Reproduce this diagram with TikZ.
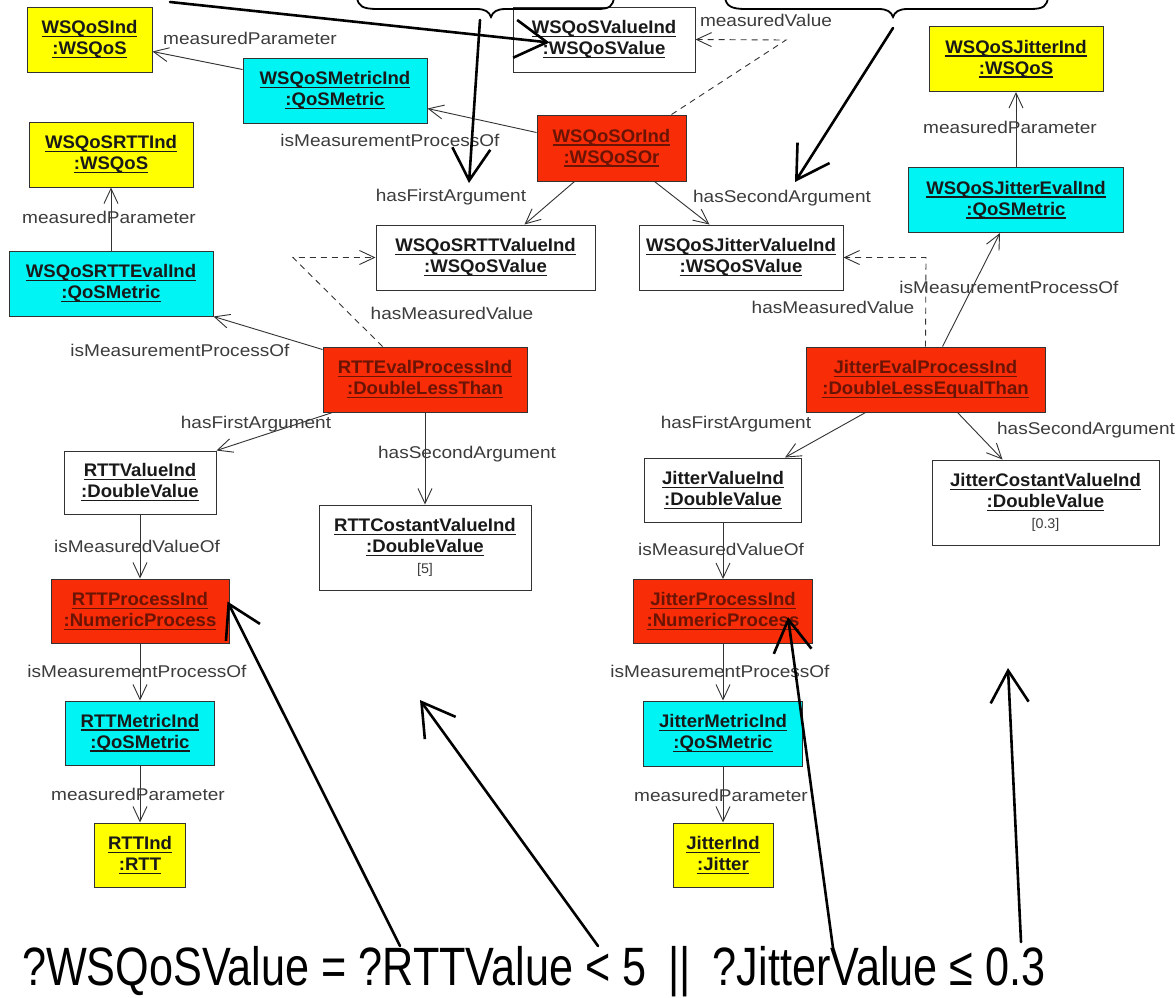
\documentclass[tikz,border=0pt]{standalone}
\usepackage{fontspec}
\setmainfont{Liberation Sans}
\newfontfamily\boxfont[FakeStretch=1.02]{Liberation Sans}
\newfontfamily\labfont[FakeStretch=1.12]{Liberation Sans}
\newfontfamily\formfont[FakeStretch=0.8]{Liberation Sans}
\usetikzlibrary{arrows.meta,calc}

\definecolor{umlred}{RGB}{248,44,6}
\definecolor{umlcyan}{RGB}{0,244,244}
\definecolor{umlyellow}{RGB}{255,255,0}
\definecolor{edgegray}{RGB}{50,50,50}
\definecolor{labgray}{RGB}{60,60,60}
\definecolor{redtext}{RGB}{105,20,5}
\definecolor{boxtext}{RGB}{25,25,25}

% underlined object name
\newcommand\ulx[1]{\setbox0=\hbox{#1}\rlap{\rule[-3.4pt]{\wd0}{1.3pt}}\box0}
\newcommand\obj[2]{\ulx{#1}\\\ulx{#2}}
\newcommand\val[1]{\\{\mdseries\fontsize{14}{21}\selectfont\color{labgray}#1}}

\tikzset{
  obj/.style={draw=edgegray, line width=1pt, minimum height=65pt, inner sep=0pt,
    align=center, font=\boxfont\bfseries\fontsize{18.2}{21}\selectfont, text=boxtext},
  plainbox/.style={obj, fill=white},
  yelbox/.style={obj, fill=umlyellow},
  cyanbox/.style={obj, fill=umlcyan},
  redbox/.style={obj, fill=umlred, text=redtext},
  lab/.style={font=\labfont\fontsize{17}{19}\selectfont, text=labgray, inner sep=0pt},
  rel/.style={draw=edgegray, line width=0.9pt,
    -{Straight Barb[length=15pt,width=14pt,line width=0.9pt]}},
  dep/.style={rel, dash pattern=on 6pt off 5pt},
  hand/.style={line width=2.6pt, line cap=round,
    -{Straight Barb[length=32pt,width=38pt,line width=2.6pt]}},
  brc/.style={line width=1.8pt, line cap=round},
}

\begin{document}
\begin{tikzpicture}[x=1pt,y=-1pt]
\fill[white] (0,0) rectangle (1176,997);
\useasboundingbox (0,0) rectangle (1176,997);

% ---- object boxes ----
\node[yelbox, minimum width=125pt] (n1) at (89.5,39.5) {\obj{WSQoSInd}{:WSQoS}};
\node[cyanbox, minimum width=184pt] (n2) at (335,90.5) {\obj{WSQoSMetricInd}{:QoSMetric}};
\node[plainbox, minimum width=182pt] (n3) at (604,39.5) {\obj{WSQoSValueInd}{:WSQoSValue}};
\node[redbox, minimum width=149pt, minimum height=66pt] (n4) at (611.5,148) {\obj{WSQoSOrInd}{:WSQoSOr}};
\node[yelbox, minimum width=174pt] (n5) at (1016,59) {\obj{WSQoSJitterInd}{:WSQoS}};
\node[cyanbox, minimum width=215pt] (n6) at (1016,200) {\obj{WSQoSJitterEvalInd}{:QoSMetric}};
\node[yelbox, minimum width=164pt] (n7) at (111,154.5) {\obj{WSQoSRTTInd}{:WSQoS}};
\node[cyanbox, minimum width=204pt] (n8) at (111,283.5) {\obj{WSQoSRTTEvalInd}{:QoSMetric}};
\node[plainbox, minimum width=219pt] (n9) at (485.5,257.5) {\obj{WSQoSRTTValueInd}{:WSQoSValue}};
\node[plainbox, minimum width=204pt] (n10) at (741,257.5) {\obj{WSQoSJitterValueInd}{:WSQoSValue}};
\node[redbox, minimum width=204pt] (n11) at (425,379.5) {\obj{RTTEvalProcessInd}{:DoubleLessThan}};
\node[redbox, minimum width=239pt] (n12) at (925.5,379.5) {\obj{JitterEvalProcessInd}{:DoubleLessEqualThan}};
\node[plainbox, minimum width=152pt, minimum height=63pt] (n13) at (140,482.5) {\obj{RTTValueInd}{:DoubleValue}};
\node[plainbox, minimum width=212pt, minimum height=85pt] (n14) at (425,547.5) {\obj{RTTCostantValueInd}{:DoubleValue}\val{[5]}};
\node[plainbox, minimum width=157pt, minimum height=64pt] (n15) at (723,490) {\obj{JitterValueInd}{:DoubleValue}};
\node[plainbox, minimum width=227pt, minimum height=85pt] (n16) at (1045.5,502.5) {\obj{JitterCostantValueInd}{:DoubleValue}\val{[0.3]}};
\node[redbox, minimum width=178pt, minimum height=64pt] (n17) at (140,611) {\obj{RTTProcessInd}{:NumericProcess}};
\node[redbox, minimum width=179pt, minimum height=64pt] (n18) at (723,611.5) {\obj{JitterProcessInd}{:NumericProcess}};
\node[cyanbox, minimum width=149pt, minimum height=64pt] (n19) at (140,733) {\obj{RTTMetricInd}{:QoSMetric}};
\node[cyanbox, minimum width=159pt, minimum height=65pt] (n20) at (723,733.5) {\obj{JitterMetricInd}{:QoSMetric}};
\node[yelbox, minimum width=91pt, minimum height=64pt] (n21) at (140,855) {\obj{RTTInd}{:RTT}};
\node[yelbox, minimum width=100pt, minimum height=64pt] (n22) at (723,855) {\obj{JitterInd}{:Jitter}};

% ---- bend points of the dashed links ----
\coordinate (c3) at (786,40);
\coordinate (c8) at (926,257.5);
\coordinate (c11) at (293,257.5);

% ---- relations ----
\draw[rel] ($(n2.north west)+(0,12)$) -- ($(n1.north east)+(0,45)$);
\draw[rel] ($(n4.north west)+(0,18)$) -- ($(n2.north east)+(0,51)$);
\draw[dep] ($(n4.north west)+(135,0)$) -- (c3) -- (n3.east);
\draw[rel] ($(n4.south west)+(38,0)$) -- ($(n9.north west)+(149,0)$);
\draw[rel] ($(n4.south west)+(118,0)$) -- ($(n10.north west)+(71,0)$);
\draw[rel] (n6.north) -- (n5.south);
\draw[rel] ($(n12.north west)+(137,0)$) -- ($(n6.south west)+(92,0)$);
\draw[dep] ($(n12.north west)+(120,0)$) -- (c8) -- (n10.east);
\draw[rel] (n8.north) -- (n7.south);
\draw[rel] ($(n11.north west)+(0,3)$) -- (n8.south east);
\draw[dep] ($(n11.north west)+(60,0)$) -- (c11) -- (n9.west);
\draw[rel] ($(n11.south west)+(10,0)$) -- (n13.north east);
\draw[rel] (n11.south) -- (n11.south |- n14.north);
\draw[rel] ($(n12.south west)+(60,0)$) -- ($(n15.north east)+(-17,0)$);
\draw[rel] ($(n12.south west)+(152,0)$) -- ($(n16.north west)+(71,0)$);
\draw[rel] (n13) -- (n17);
\draw[rel] (n17) -- (n19);
\draw[rel] (n19) -- (n21);
\draw[rel] (n15) -- (n18);
\draw[rel] (n18) -- (n20);
\draw[rel] (n20) -- (n22);

% ---- relation labels ----
\node[lab] (l1) at (250,38) {measuredParameter};
\node[lab] (l2) at (390,140) {isMeasurementProcessOf};
\node[lab] (l3) at (766,20) {measuredValue};
\node[lab] (l4) at (451,197) {hasFirstArgument};
\node[lab] (l5) at (782,198) {hasSecondArgument};
\node[lab] (l6) at (1010,127) {measuredParameter};
\node[lab] (l7) at (1009,287) {isMeasurementProcessOf};
\node[lab] (l8) at (833,307) {hasMeasuredValue};
\node[lab] (l9) at (109,217) {measuredParameter};
\node[lab] (l10) at (180,350) {isMeasurementProcessOf};
\node[lab] (l11) at (452,313) {hasMeasuredValue};
\node[lab] (l12) at (256,424) {hasFirstArgument};
\node[lab] (l13) at (467,454) {hasSecondArgument};
\node[lab] (l14) at (736,424) {hasFirstArgument};
\node[lab] (l15) at (1086,430) {hasSecondArgument};
\node[lab] (l16) at (137,546) {isMeasuredValueOf};
\node[lab] (l17) at (137,671) {isMeasurementProcessOf};
\node[lab] (l18) at (138,794) {measuredParameter};
\node[lab] (l19) at (721,549) {isMeasuredValueOf};
\node[lab] (l20) at (720,671) {isMeasurementProcessOf};
\node[lab] (l21) at (721,795) {measuredParameter};

% ---- braces over the two arguments ----
\draw[brc] (357,-3) .. controls (358,6) and (362,9) .. (378,9) -- (476,9)
  .. controls (486,9) and (489,12) .. (491,17) .. controls (493,12) and (496,9) .. (506,9)
  -- (597,9) .. controls (610,9) and (613,6) .. (614,-3);
\draw[brc] (725,-3) .. controls (726,6) and (731,9) .. (746,9) -- (878,9)
  .. controls (888,9) and (891,12) .. (893,17) .. controls (895,12) and (898,9) .. (908,9)
  -- (1030,9) .. controls (1044,9) and (1047,6) .. (1048,-3);

% ---- formula ----
\node[anchor=base west, inner sep=0pt, font=\formfont\fontsize{54}{60}\selectfont] (f)
  at (22,985) {?WSQoSValue = ?RTTValue < 5\hspace{22pt}||\hspace{22pt}?JitterValue ≤ 0.3};

% ---- annotation arrows ----
\coordinate (h1s) at (170,2);
\coordinate (h2s) at (480,20);
\coordinate (h2e) at (469,183);
\coordinate (h3s) at (893,28);
\coordinate (h3e) at (795,182);
\coordinate (h4s) at (400,946);
\coordinate (h5s) at (598,946);
\coordinate (h5e) at (420,700);
\coordinate (h6s) at (833,948);
\coordinate (h7s) at (1021,942);
\coordinate (h7e) at (1008,668);
\draw[hand] (h1s) -- ($(n3.north west)+(37,36)$);
\draw[hand] (h2s) -- (h2e);
\draw[hand] (h3s) -- (h3e);
\draw[hand] (h4s) -- ($(n17.north east)+(-2,23)$);
\draw[hand] (h5s) -- (h5e);
\draw[hand] (h6s) -- ($(n18.north east)+(-25,38)$);
\draw[hand] (h7s) -- (h7e);
\end{tikzpicture}
\end{document}
